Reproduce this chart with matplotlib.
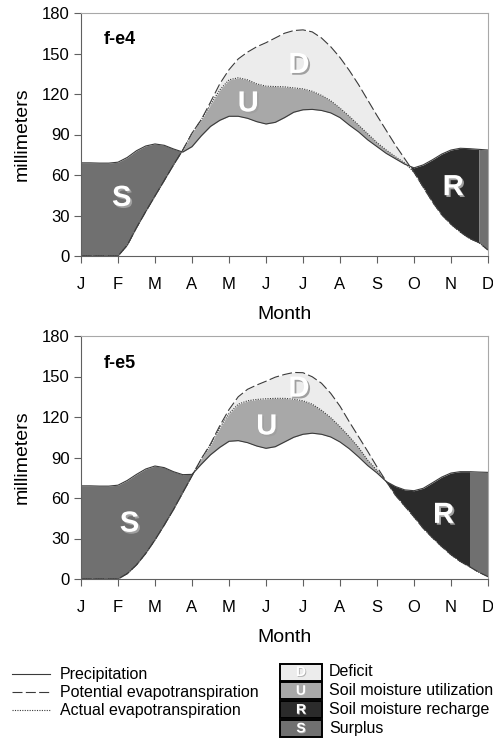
"""Plots the monthly water balance for stations f-e4 and f-e5"""
import numpy as np
import matplotlib
matplotlib.use("Agg")
import matplotlib.pyplot as plt
import matplotlib.patheffects as pe
from matplotlib.patches import Rectangle

plt.rcParams['font.family'] = ['Liberation Sans', 'DejaVu Sans']

MONTHS = ['J', 'F', 'M', 'A', 'M', 'J', 'J', 'A', 'S', 'O', 'N', 'D']
X = np.arange(45) * 0.25  # quarter-month steps, J=0 .. D=11

# f-e4
PREC_E4 = [69, 69, 68.8, 68.8, 69.5, 73, 78, 81.5, 83, 82, 79.3, 77,
           81, 89, 96, 100.5, 103.5, 103.5, 102, 99.5, 97.8, 99, 102.5, 106.5,
           108.3, 108.6, 107.8, 106, 102.5, 97, 92, 86, 81, 76, 72, 68,
           65.3, 67.5, 71.3, 75.5, 78.5, 79.8, 79.5, 79, 78.5]
PET_E4 = [0, 0, 0, 0, 0, 8, 21, 33, 44.5, 56, 67.5, 78.5,
          91, 101, 114, 127.5, 138, 146, 151, 155, 158, 161.5, 165, 167,
          167.5, 166, 161.5, 155, 147, 137.5, 127, 115.5, 104, 93, 82, 72,
          62, 51, 40, 30.5, 23.5, 17.8, 13, 10, 4.4]
AET_E4 = [0, 0, 0, 0, 0, 8, 21, 33, 44.5, 56, 67.5, 78.5,
          91, 101, 112, 123, 130.5, 132, 130.5, 127.5, 125.8, 125.5, 125.3, 124.5,
          123.8, 122, 119, 115, 109.5, 103.5, 97, 90.5, 84, 78.5, 73.5, 69,
          62, 51, 40, 30.5, 23.5, 17.8, 13, 10, 4.4]
FULL_E4 = 10.75  # soil back at field capacity

# f-e5
PREC_E5 = [69, 69, 68.8, 68.8, 69.5, 73, 77.5, 81.5, 83.7, 82.5, 79.5, 77.3,
           77.5, 85, 92, 97.5, 102, 102.5, 101, 98.5, 96.8, 98, 101.5, 105,
           107.2, 108, 107.2, 105.2, 101.5, 96.5, 90.5, 84, 78.5, 72.2, 68.5, 66,
           65.4, 67.2, 71.3, 75.5, 78.5, 79.5, 79.5, 79.2, 79]
PET_E5 = [0, 0, 0, 0, 0, 4, 10.5, 19, 29, 40, 51.5, 64,
          76.5, 89, 100, 113.5, 125.5, 135, 140.5, 143.7, 146.5, 149.5, 151.5, 153,
          152.8, 149.8, 145, 137.5, 128, 116.5, 105.5, 94.5, 83, 72.3, 62, 54,
          46, 37.5, 30.5, 24, 18, 13, 9.1, 5, 1.7]
AET_E5 = [0, 0, 0, 0, 0, 4, 10.5, 19, 29, 40, 51.5, 64,
          76.5, 89, 99.5, 112, 122.5, 129.5, 132, 133, 133.5, 133.8, 133.8, 133.2,
          132, 129.5, 125, 119.5, 112.8, 105.5, 97.5, 88, 80.5, 72.3, 62, 54,
          46, 37.5, 30.5, 24, 18, 13, 9.1, 5, 1.7]
FULL_E5 = 10.5

SURPLUS = '#707070'
RECHARGE = '#2b2b2b'
UTILIZATION = '#a8a8a8'
DEFICIT = '#ececec'
LINE = '#3a3a3a'

SHADOW = [pe.SimplePatchShadow(offset=(1.3, -1.3), shadow_rgbFace='#a0a0a0', alpha=1), pe.Normal()]


def plotWaterBalance(ax, name, prec, pet, aet, full_at, letters) -> None:
    """Fills surplus/recharge/utilization/deficit areas and draws the three curves"""
    x = X
    prec, pet, aet = np.asarray(prec), np.asarray(pet), np.asarray(aet)

    left = x <= 5
    ax.fill_between(x[left], pet[left], prec[left], where=prec[left] >= pet[left],
                    interpolate=True, color=SURPLUS, lw=0)
    mid = (x >= 5) & (x <= full_at)
    ax.fill_between(x[mid], pet[mid], prec[mid], where=prec[mid] >= pet[mid],
                    interpolate=True, color=RECHARGE, lw=0)
    right = x >= full_at
    ax.fill_between(x[right], pet[right], prec[right], color=SURPLUS, lw=0)
    ax.fill_between(x, prec, aet, where=aet >= prec, interpolate=True, color=UTILIZATION, lw=0)
    ax.fill_between(x, aet, pet, where=pet > aet, interpolate=True, color=DEFICIT, lw=0)

    ax.plot(x, prec, color=LINE, lw=0.8)
    ax.plot(x, pet, color=LINE, lw=0.8, dashes=(9, 3))
    ax.plot(x, aet, color=LINE, lw=0.8, dashes=(1, 1.2))

    for letter, (lx, ly) in letters.items():
        ax.text(lx, ly, letter, color='white', fontsize=21, fontweight='bold',
                ha='center', va='center', path_effects=SHADOW)
    ax.text(0.62, 160, name, fontsize=13, fontweight='bold', ha='left', va='center')

    ax.set_xlim(0, 11)
    ax.set_ylim(0, 180)
    ax.set_xticks(range(12))
    ax.set_xticklabels(MONTHS)
    ax.set_yticks(range(0, 181, 30))
    ax.tick_params(labelsize=12, length=5, color='#606060')
    ax.tick_params(axis='x', pad=10)
    ax.tick_params(axis='y', pad=3)
    for side in ['left', 'bottom']:
        ax.spines[side].set_color('#606060')
    for side in ['top', 'right']:
        ax.spines[side].set_color('#a8a8a8')
    ax.set_xlabel('Month', fontsize=14, labelpad=10)
    ax.set_ylabel('millimeters', fontsize=14, labelpad=8)


fig = plt.figure(figsize=(4.93, 7.40), dpi=100)
ax1 = fig.add_axes([81 / 493, 1 - 256 / 740, 407 / 493, 243 / 740])
ax2 = fig.add_axes([81 / 493, 1 - 579 / 740, 407 / 493, 243 / 740])

plotWaterBalance(ax1, 'f-e4', PREC_E4, PET_E4, AET_E4, FULL_E4,
                 {'S': (1.1, 43), 'U': (4.52, 113), 'D': (5.89, 141.5), 'R': (10.06, 51)})
plotWaterBalance(ax2, 'f-e5', PREC_E5, PET_E5, AET_E5, FULL_E5,
                 {'S': (1.31, 41), 'U': (5.02, 113), 'D': (5.89, 141), 'R': (9.8, 47.5)})

# legend drawn in pixel coordinates below the charts
leg = fig.add_axes([0, 0, 1, 95 / 740])
leg.set_xlim(0, 493)
leg.set_ylim(740, 645)
leg.axis('off')

line_items = [('Precipitation', None), ('Potential evapotranspiration', (9, 3)),
              ('Actual evapotranspiration', (1, 1.2))]
for i, (label, dash) in enumerate(line_items):
    y = 674 + i * 18
    if dash is None:
        leg.plot([12, 50], [y, y], color=LINE, lw=0.8)
    else:
        leg.plot([12, 50], [y, y], color=LINE, lw=0.8, dashes=dash)
    leg.text(60, y, label, fontsize=11.5, va='center', ha='left')

box_items = [('Deficit', 'D', DEFICIT), ('Soil moisture utilization', 'U', UTILIZATION),
             ('Soil moisture recharge', 'R', RECHARGE), ('Surplus', 'S', SURPLUS)]
for i, (label, letter, color) in enumerate(box_items):
    y = 672 + i * 18.8
    leg.add_patch(Rectangle((280, y - 8.5), 42, 17, facecolor=color, edgecolor='black', lw=1.4))
    leg.text(301, y, letter, color='white', fontsize=10, fontweight='bold',
             ha='center', va='center',
             path_effects=[pe.SimplePatchShadow(offset=(0.6, -0.6), shadow_rgbFace='#b0b0b0', alpha=1), pe.Normal()])
    leg.text(329, y, label, fontsize=11.5, va='center', ha='left')

fig.savefig('out.png', dpi=100)
